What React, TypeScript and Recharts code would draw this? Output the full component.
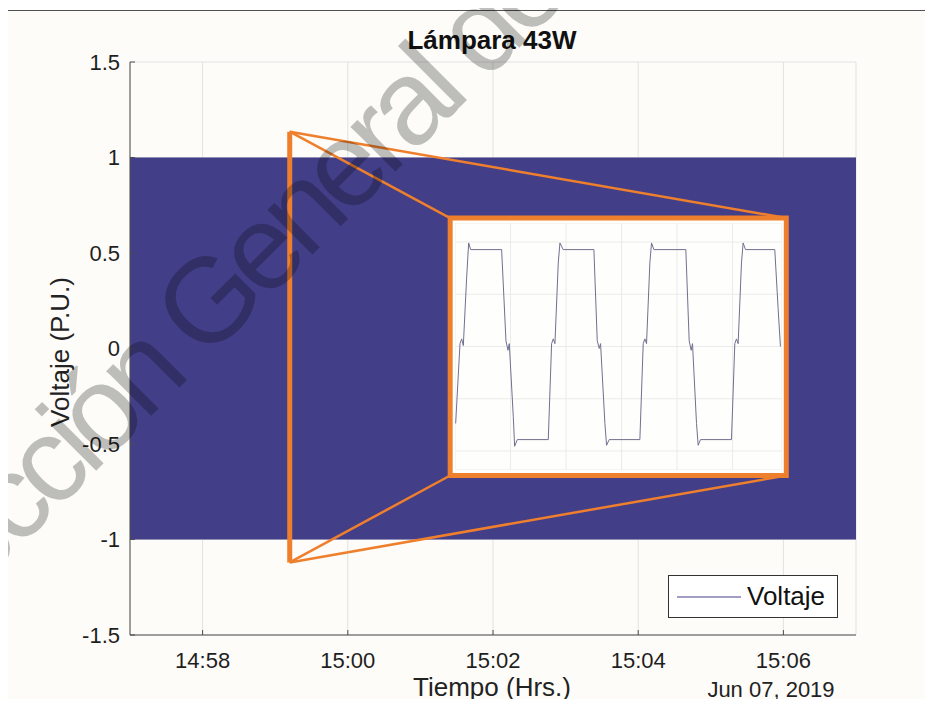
import React from 'react';
import {
  ComposedChart, LineChart, Line, Area, XAxis, YAxis, CartesianGrid, Legend, ReferenceLine, ReferenceArea,
} from 'recharts';

const FONT = '"Liberation Sans", Arial, Helvetica, sans-serif';

// envolvente del voltaje (minutos desde las 00:00)
const bandTime = [897, 907];
const bandLow = [-1, -1];
const bandHigh = [1, 1];

const xTicks = [898, 900, 902, 904, 906];
const yTicks = [-1.5, -1, -0.5, 0, 0.5, 1, 1.5];

// recuadro del zoom
const srcT = 899.2;
const srcTop = 1.135;
const srcBottom = -1.12;
const insetT1 = 901.41;
const insetT2 = 906.04;
const insetTop = 0.683;
const insetBottom = -0.665;

// detalle de la forma de onda (ms, p.u.)
const detailTime = [
  0.12, 0.9, 1.2, 1.5, 2.1, 2.46, 2.82, 8.4, 9.18, 9.54, 9.78, 10.5, 10.74, 11.22,
  16.8, 17.4, 17.7, 18.0, 18.6, 18.9, 19.5, 25.02, 25.62, 25.98, 26.22, 27.0, 27.3, 27.78,
  33.3, 33.9, 34.2, 34.5, 35.1, 35.4, 35.82, 41.58, 42.18, 42.54, 42.78, 43.5, 43.8, 44.22,
  49.8, 50.4, 50.7, 51.0, 51.6, 51.9, 52.32, 57.6, 58.2, 58.62,
];
const detailVolt = [
  -0.81, 0.03, 0.08, 0.01, 0.73, 1.09, 1.02, 1.02, 0.06, -0.04, 0.03, -0.74, -1.05, -0.98,
  -0.98, 0.03, 0.08, 0.03, 0.88, 1.09, 1.02, 1.02, 0.06, -0.02, 0.03, -0.81, -1.04, -0.98,
  -0.98, 0.03, 0.08, 0.03, 0.88, 1.09, 1.02, 1.02, 0.06, -0.04, 0.03, -0.81, -1.04, -0.98,
  -0.98, 0.03, 0.08, 0.03, 0.88, 1.09, 1.02, 1.02, 0.4, 0.0,
];
const detailGridT = [0, 10, 20, 30, 40, 50];
const detailGridV = [-1.1, -0.55, 0, 0.55, 1.1];

const ORANGE = '#ee7f2d';
const NAVY = '#433e88';
const AXIS = '#4d4d4d';

const toClock = (m: number) => `${Math.floor(m / 60)}:${String(Math.round(m % 60)).padStart(2, '0')}`;

const renderLegend = () => (
  <div style={{
    width: 170, height: 43, boxSizing: 'border-box', border: '1px solid #333', background: '#fff',
    display: 'flex', alignItems: 'center', fontFamily: FONT, fontSize: 26, color: '#111',
  }}>
    <svg width={78} height={10}><line x1={8} x2={72} y1={5} y2={5} stroke={NAVY} strokeWidth={1} /></svg>
    <span>Voltaje</span>
  </div>
);

export default function App() {
  const band = bandTime.map((t, i) => ({ t, voltaje: [bandLow[i], bandHigh[i]] }));
  const detail = detailTime.map((t, i) => ({ t, v: detailVolt[i] }));
  const tickStyle = { fill: '#1f1f1f', fontSize: 22, fontFamily: FONT };

  return (
    <div style={{ position: 'relative', width: 933, height: 707, margin: -8, background: '#fff', overflow: 'hidden', fontFamily: FONT }}>
      <div style={{
        position: 'absolute', left: 7, top: 10, width: 926, height: 697, background: '#fdfcf8',
        borderLeft: '1.5px solid #505050', borderTop: '1.5px solid #505050', boxSizing: 'border-box',
      }} />
      <div style={{ position: 'absolute', left: 0, top: 0 }}>
        <ComposedChart width={933} height={707} data={band} margin={{ top: 62, right: 77, bottom: 42, left: 70 }}>
          <CartesianGrid stroke="#e2e2e2" />
          <XAxis dataKey="t" type="number" domain={[897, 907]} ticks={xTicks} interval={0} tickFormatter={toClock}
            height={30} tickSize={-5} tickMargin={22} axisLine={{ stroke: AXIS }} tickLine={{ stroke: AXIS }} tick={tickStyle} />
          <XAxis xAxisId="top" orientation="top" dataKey="t" type="number" domain={[897, 907]} ticks={xTicks} interval={0}
            height={0} tickSize={-5} tick={false} axisLine={{ stroke: AXIS }} tickLine={{ stroke: AXIS }} />
          <YAxis type="number" domain={[-1.5, 1.5]} ticks={yTicks} interval={0} width={60}
            tickSize={-5} tickMargin={15} axisLine={{ stroke: AXIS }} tickLine={{ stroke: AXIS }} tick={tickStyle} />
          <YAxis yAxisId="right" orientation="right" type="number" domain={[-1.5, 1.5]} ticks={yTicks} interval={0} width={0}
            tickSize={-5} tick={false} axisLine={{ stroke: AXIS }} tickLine={{ stroke: AXIS }} />
          <Area dataKey="voltaje" name="Voltaje" type="linear" stroke="none" fill={NAVY} fillOpacity={1} isAnimationActive={false} />
          <ReferenceLine segment={[{ x: srcT, y: srcTop }, { x: insetT1, y: insetTop }]} stroke={ORANGE} strokeWidth={2.5} />
          <ReferenceLine segment={[{ x: srcT, y: srcTop }, { x: insetT2, y: insetTop }]} stroke={ORANGE} strokeWidth={2.5} />
          <ReferenceLine segment={[{ x: srcT, y: srcBottom }, { x: insetT1, y: insetBottom }]} stroke={ORANGE} strokeWidth={2.5} />
          <ReferenceLine segment={[{ x: srcT, y: srcBottom }, { x: insetT2, y: insetBottom }]} stroke={ORANGE} strokeWidth={2.5} />
          <ReferenceLine segment={[{ x: srcT, y: srcBottom }, { x: srcT, y: srcTop }]} stroke={ORANGE} strokeWidth={5} />
          <ReferenceArea x1={insetT1} x2={insetT2} y1={insetBottom} y2={insetTop} fill="#fefefc" fillOpacity={1} stroke={ORANGE} strokeWidth={5} />
          <Legend layout="vertical" align="center" verticalAlign="middle" content={renderLegend}
            wrapperStyle={{ left: 668, top: 575, width: 170, height: 43 }} />
        </ComposedChart>
      </div>
      <div style={{ position: 'absolute', left: 455, top: 223 }}>
        <LineChart width={327} height={247} data={detail} margin={{ top: 0, right: 0, bottom: 0, left: 0 }}>
          <CartesianGrid stroke="#ebebeb" />
          <XAxis dataKey="t" type="number" domain={[0, 58.9]} ticks={detailGridT} hide />
          <YAxis type="number" domain={[-1.3, 1.3]} ticks={detailGridV} hide />
          <Line dataKey="v" type="linear" stroke="#707090" strokeWidth={1} dot={false} isAnimationActive={false} />
        </LineChart>
      </div>
      <svg width={933} height={707} style={{ position: 'absolute', left: 0, top: 0, pointerEvents: 'none' }}>
        <text x={492} y={49} textAnchor="middle" fontSize={26} fontWeight="bold" fill="#111" fontFamily={FONT}>Lámpara 43W</text>
        <text x={492} y={696} textAnchor="middle" fontSize={26} fill="#222" fontFamily={FONT}>Tiempo (Hrs.)</text>
        <text x={771} y={697} textAnchor="middle" fontSize={22} fill="#222" fontFamily={FONT}>Jun 07, 2019</text>
        <text x={69} y={352} textAnchor="middle" fontSize={26} fill="#222" fontFamily={FONT}
          transform="rotate(-90 69 352)">Voltaje (P.U.)</text>
        <text x={-116} y={683} transform="rotate(-45 -116 683)" fontSize={120} letterSpacing={-8} fill="#000" fillOpacity={0.25}
          fontFamily={FONT}>Dirección General de Bibliotecas</text>
      </svg>
    </div>
  );
}
